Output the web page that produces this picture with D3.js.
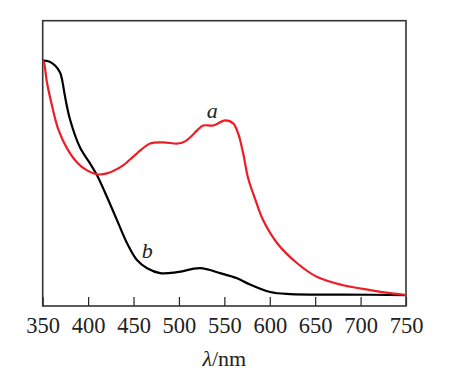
<!DOCTYPE html>
<html>
<head>
<meta charset="utf-8">
<script src="https://cdn.jsdelivr.net/npm/d3@7"></script>
<style>
  body { margin: 0; background: #fff; }
  svg { display: block; }
</style>
</head>
<body>
<div id="chart"></div>
<script>
// Absorption spectra, wavelength (nm) vs absorbance (arbitrary units)
const wavelengthTicks = [350, 400, 450, 500, 550, 600, 650, 700, 750];

// curve a (red)
const curveA = [
  [350, 1.0], [351.4, 0.991], [354.7, 0.906], [360.2, 0.808], [366.9, 0.709],
  [376.8, 0.624], [387.8, 0.564], [398.8, 0.530], [409.8, 0.513], [420.9, 0.517],
  [433, 0.538], [438.5, 0.551], [453.9, 0.603], [468.2, 0.645], [482.6, 0.650],
  [499, 0.645], [506.8, 0.654], [514.5, 0.679], [520, 0.701], [526.7, 0.722],
  [537.7, 0.722], [550.9, 0.744], [559.7, 0.731], [565.2, 0.688], [570.7, 0.603],
  [576.2, 0.496], [584, 0.406], [592.8, 0.316], [608.2, 0.218], [630.2, 0.132],
  [652.3, 0.073], [680.9, 0.038], [710.7, 0.017], [732.7, 0.004], [750, -0.004]
];

// curve b (black)
const curveB = [
  [350, 1.0], [357, 0.996], [363.6, 0.979], [369.1, 0.949], [371.3, 0.919],
  [374.6, 0.846], [380.1, 0.748], [391.1, 0.628], [402.1, 0.560], [409.8, 0.509],
  [420.9, 0.415], [431.9, 0.316], [442.9, 0.218], [454, 0.145], [465, 0.111],
  [479.3, 0.090], [498, 0.094], [523.3, 0.111], [545.4, 0.090], [564, 0.068],
  [575, 0.047], [600.5, 0.009], [622.5, 0.0], [680, -0.002], [750, -0.004]
];

const curveLabels = [
  { text: "a", nm: 536.6, value: 0.756 },
  { text: "b", nm: 465, value: 0.154 }
];

const width = 453, height = 378;
const margin = { top: 20.7, right: 47, bottom: 72, left: 42.7 };
const innerW = width - margin.left - margin.right;
const innerH = height - margin.top - margin.bottom;
const serif = "'Liberation Serif', 'Times New Roman', serif";

const svg = d3.select("#chart").append("svg")
  .attr("width", width)
  .attr("height", height);

const g = svg.append("g")
  .attr("transform", "translate(" + margin.left + "," + margin.top + ")");

const x = d3.scaleLinear().domain([350, 750]).range([0, innerW]);
const y = d3.scaleLinear().domain([-0.051, 1.171]).range([innerH, 0]);

// x axis with inward ticks
const xAxis = g.append("g")
  .attr("transform", "translate(0," + innerH + ")")
  .call(d3.axisBottom(x).tickValues(wavelengthTicks).tickSizeInner(-9).tickSizeOuter(0).tickPadding(11));
xAxis.select(".domain").remove();
xAxis.selectAll(".tick line").attr("stroke", "#222").attr("stroke-width", 1.2);
xAxis.selectAll("text")
  .attr("fill", "#222")
  .style("font-family", serif)
  .style("font-size", "22.5px");

// plot frame
g.append("rect")
  .attr("x", 0).attr("y", 0)
  .attr("width", innerW).attr("height", innerH)
  .attr("fill", "none")
  .attr("stroke", "#333")
  .attr("stroke-width", 1.6);

const line = d3.line()
  .x(d => x(d[0]))
  .y(d => y(d[1]))
  .curve(d3.curveCatmullRom.alpha(0.5));

g.append("path").datum(curveB)
  .attr("d", line)
  .attr("fill", "none")
  .attr("stroke", "#000")
  .attr("stroke-width", 2.2);

g.append("path").datum(curveA)
  .attr("d", line)
  .attr("fill", "none")
  .attr("stroke", "#ee1c25")
  .attr("stroke-width", 2.2);

// curve labels
g.selectAll(".clabel")
  .data(curveLabels)
  .enter().append("text")
  .attr("class", "clabel")
  .attr("x", d => x(d.nm))
  .attr("y", d => y(d.value))
  .attr("text-anchor", "middle")
  .style("font-family", serif)
  .style("font-style", "italic")
  .style("font-size", "22px")
  .attr("fill", "#222")
  .text(d => d.text);

// axis title
const title = svg.append("text")
  .attr("x", margin.left + innerW / 2)
  .attr("y", 366)
  .attr("text-anchor", "middle")
  .style("font-family", serif)
  .style("font-size", "22px")
  .attr("fill", "#222");
title.append("tspan").style("font-style", "italic").text("λ");
title.append("tspan").text("/nm");
</script>
</body>
</html>
